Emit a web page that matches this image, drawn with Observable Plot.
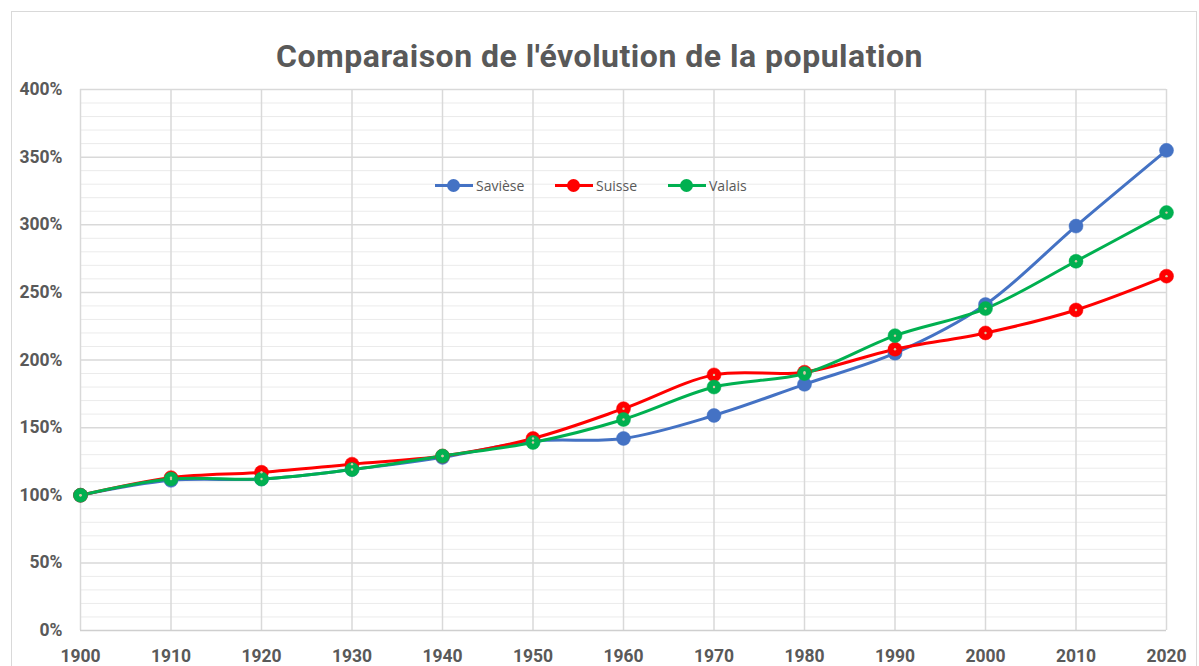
<!DOCTYPE html>
<html>
<head>
<meta charset="utf-8">
<script src="https://cdn.jsdelivr.net/npm/d3@7"></script>
<script src="https://cdn.jsdelivr.net/npm/@observablehq/plot@0.6"></script>
<style>
  html, body { margin: 0; padding: 0; background: #fff; }
  #wrap { position: relative; width: 1199px; height: 666px; overflow: hidden; background: #fff; }
  #frame { position: absolute; left: 11px; top: 11px; width: 1186px; height: 700px; border: 1px solid #d9d9d9; box-sizing: border-box; }
  #title { position: absolute; left: 0; top: 38px; width: 1199px; height: 36px; text-align: center; font-family: Roboto, sans-serif; font-weight: 700; font-size: 32px; letter-spacing: 0.5px; color: #595959; line-height: 36px; }
  #chart { position: absolute; left: 0; top: 80px; }
  #legend { position: absolute; top: 176px; left: 0; font-family: "Open Sans", sans-serif; font-size: 14px; color: #595959; }
  .item { position: absolute; display: flex; align-items: center; white-space: nowrap; }
  .sym { position: relative; width: 38px; height: 16px; margin-right: 3px; }
  .sym .ln { position: absolute; left: 0; right: 0; top: 6.5px; height: 3px; }
  .sym .dt { position: absolute; left: 12px; top: 1.5px; width: 13px; height: 13px; border-radius: 50%; }
</style>
</head>
<body>
<div id="wrap">
  <div id="frame"></div>
  <div id="title">Comparaison de l'évolution de la population</div>
  <div id="chart"></div>
  <div id="legend"></div>
</div>
<script>
const years   = [1900, 1910, 1920, 1930, 1940, 1950, 1960, 1970, 1980, 1990, 2000, 2010, 2020];
const saviese = [100, 111, 112, 119, 128, 140, 142, 159, 182, 205, 241, 299, 355];
const suisse  = [100, 113, 117, 123, 129, 142, 164, 189, 191, 208, 220, 237, 262];
const valais  = [100, 112, 112, 119, 129, 139, 156, 180, 190, 218, 238, 273, 309];
const seriesNames  = ["Savièse", "Suisse", "Valais"];
const seriesColors = ["#4472C4", "#FF0000", "#00B050"];
const yTicks = [0, 50, 100, 150, 200, 250, 300, 350, 400];
const yMinor = d3.range(0, 401, 10).filter(v => v % 50 !== 0);

const valuesBySeries = [saviese, suisse, valais];
const data = seriesNames.flatMap((name, s) =>
  years.map((year, i) => ({serie: name, year, value: valuesBySeries[s][i]})));

const chart = Plot.plot({
  width: 1199,
  height: 586,
  marginTop: 9,
  marginBottom: 36,
  marginLeft: 80,
  marginRight: 33,
  style: {fontFamily: "Roboto, sans-serif", fontWeight: 700, fontSize: "17.5px", color: "#595959", background: "transparent", overflow: "visible"},
  x: {type: "linear", domain: [1900, 2020], label: null},
  y: {domain: [0, 400], label: null},
  color: {domain: seriesNames, range: seriesColors},
  marks: [
    Plot.ruleY(yMinor, {stroke: "#ebebeb", strokeWidth: 1}),
    Plot.ruleY(yTicks.filter(v => v > 0), {stroke: "#d9d9d9", strokeWidth: 1.5}),
    Plot.ruleX(years, {stroke: "#d9d9d9", strokeWidth: 1.5}),
    Plot.ruleY([0], {stroke: "#cfcfcf", strokeWidth: 1.5}),
    Plot.axisY({ticks: yTicks, tickFormat: d => d + "%", tickSize: 0, tickPadding: 18, fill: "#595959"}),
    Plot.axisX({ticks: years, tickFormat: d => String(d), tickSize: 0, tickPadding: 19, fill: "#595959"}),
    Plot.line(data, {x: "year", y: "value", z: "serie", stroke: "serie", strokeWidth: 3, curve: "catmull-rom"}),
    Plot.dot(data, {x: "year", y: "value", fill: "serie", r: 7, stroke: "serie", strokeWidth: 0.5}),
    Plot.dot(data.filter(d => d.serie !== "Savièse"), {x: "year", y: "value", fill: "#d8c8a8", r: 1.2})
  ]
});
document.getElementById("chart").appendChild(chart);

const legendPos = [435, 555, 668];
const legend = document.getElementById("legend");
seriesNames.forEach((name, i) => {
  const item = document.createElement("div");
  item.className = "item";
  item.style.left = legendPos[i] + "px";
  item.innerHTML = `<div class="sym"><div class="ln" style="background:${seriesColors[i]}"></div><div class="dt" style="background:${seriesColors[i]}"></div></div><span>${name}</span>`;
  legend.appendChild(item);
});
</script>
</body>
</html>
